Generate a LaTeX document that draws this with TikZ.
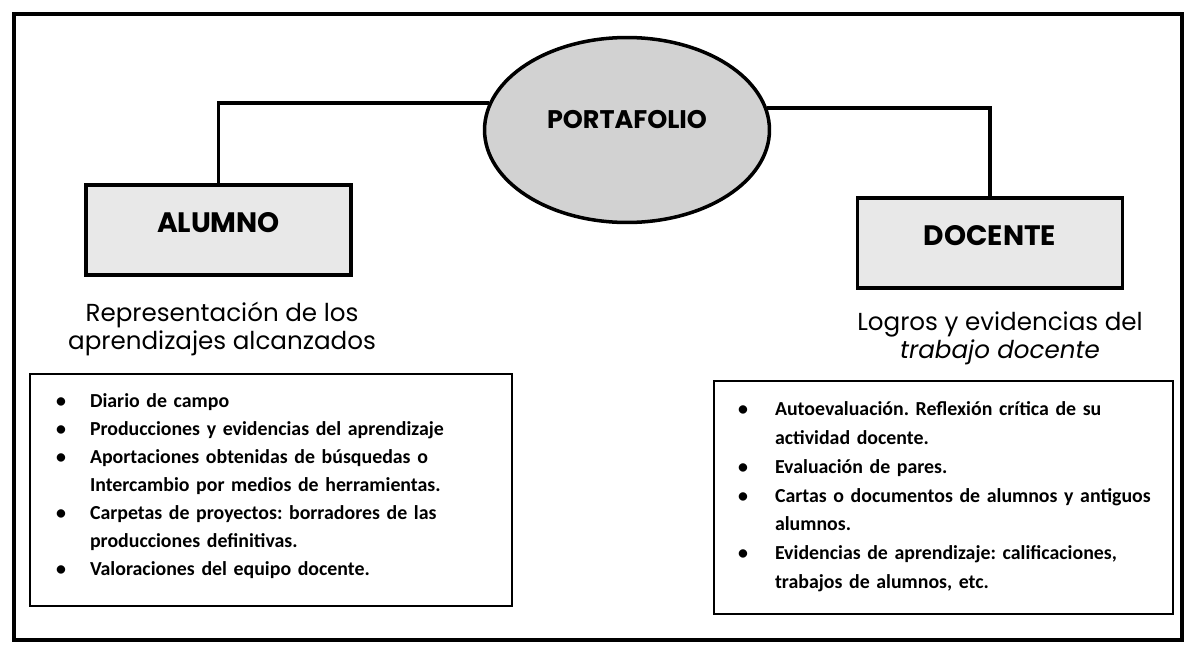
\documentclass[tikz,border=0pt]{standalone}
\usepackage{fontspec}
\setmainfont{Carlito}
\newfontfamily\gothic{Poppins}
\usetikzlibrary{shapes.geometric}

\newcommand{\itm}[2][0.68cm]{\par\noindent\hangindent=#1\hangafter=1\makebox[#1][l]{\textbullet}#2}

\begin{document}
\frenchspacing
\begin{tikzpicture}[x=0.02cm, y=-0.02cm,
    frame/.style={draw, line width=2.2pt},
    link/.style={line width=2.2pt},
    head/.style={draw, line width=2pt, fill=gray!18, minimum width=5.3cm, minimum height=1.8cm, text height=0.5cm, text depth=0.42cm, font=\gothic\bfseries\fontsize{16}{18}\selectfont},
    sub/.style={align=center, font=\gothic\fontsize{14}{15.9}\selectfont},
    list/.style={draw, line width=1.2pt, align=left, font=\bfseries\fontsize{11.3}{15.9}\selectfont}
]
\useasboundingbox (0,0) rectangle (1185,646);
\draw[frame] (14,14) rectangle (1182,640);

\node[ellipse, draw, line width=2pt, fill=gray!35, minimum width=5.7cm, minimum height=3.7cm, text height=0.5cm, text depth=0.58cm, font=\gothic\bfseries\fontsize{14.5}{16}\selectfont] (portafolio) at (627,130) {PORTAFOLIO};

\node[head] (alumno) at (218.5,230) {ALUMNO};
\node[head] (docente) at (990,243) {DOCENTE};

\draw[link] (portafolio.169) -| (alumno.north);
\draw[link] (portafolio.9) -| (docente.north);

\node[sub] (alumnotxt) at (222,329) {Representación de los\\aprendizajes alcanzados};
\node[sub] (docentetxt) at (1000,338) {Logros y evidencias del\\\textit{trabajo docente}};

\node[list, inner xsep=0.52cm, text width=8.6cm, minimum height=4.6cm] (alumnolist) at (271,490) {%
\itm{Diario de campo}
\itm{Producciones y evidencias del aprendizaje}
\itm{\mbox{Aportaciones obtenidas de búsquedas o}\newline\mbox{Intercambio por medios de herramientas.}}
\itm{\mbox{Carpetas de proyectos: borradores de las}\newline producciones definitivas.}
\itm{Valoraciones del equipo docente.\rule[-0.51cm]{0pt}{0pt}}\par};

\node[list, inner xsep=0.48cm, text width=8.22cm, minimum height=4.62cm, font=\bfseries\fontsize{11.3}{16.4}\selectfont] (docentelist) at (943.5,497.5) {%
\itm[0.74cm]{\mbox{Autoevaluación. Reflexión crítica de su}\newline actividad docente.}
\itm[0.74cm]{Evaluación de pares.}
\itm[0.74cm]{\mbox{Cartas o documentos de alumnos y antiguos}\newline alumnos.}
\itm[0.74cm]{\mbox{Evidencias de aprendizaje: calificaciones,}\newline trabajos de alumnos, etc.\rule[-0.39cm]{0pt}{0pt}}\par};
\end{tikzpicture}
\end{document}
